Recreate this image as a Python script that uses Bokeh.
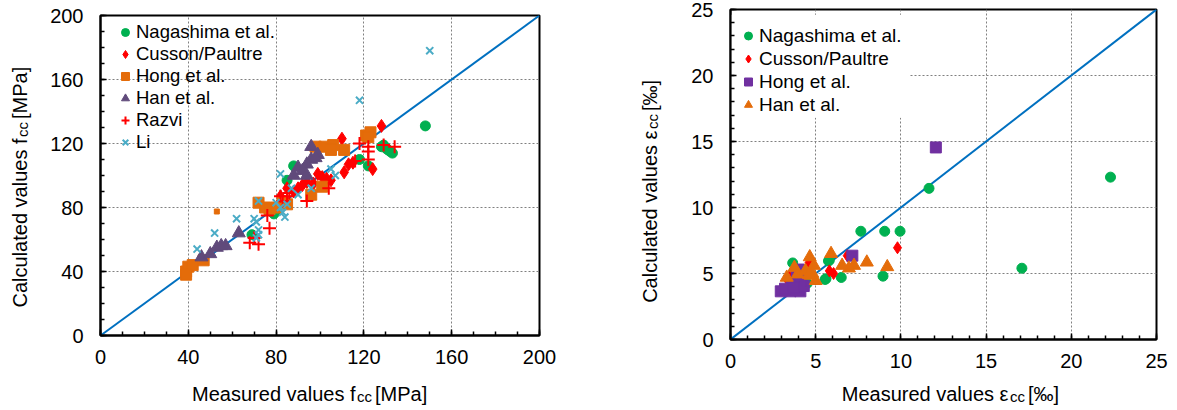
import math
from bokeh.plotting import figure
from bokeh.models import (Legend, LegendItem, BoxAnnotation, SingleIntervalTicker,
                          GridBox, Range1d)
from bokeh.core.properties import value
from bokeh.embed import file_html
from bokeh.resources import INLINE

FONT = "Liberation Sans"

# ---------------- left chart: f_cc [MPa] ----------------
nag_f_x = [148, 128, 130, 131, 132, 133, 129, 118, 122, 88, 85, 79, 80, 69]
nag_f_y = [131, 118, 117, 116, 115, 114, 119, 110, 106, 106, 97, 76, 78, 63]

cus_f_x = [128, 110, 124, 111, 113, 115, 99, 101, 103, 105, 94, 92, 90, 85, 88, 82, 97]
cus_f_y = [131, 123, 104, 102, 107, 108, 101, 99, 98, 97, 96, 94, 92, 92, 90, 87, 95]

hong_f_x = [39, 40, 42, 47, 39, 72, 75, 77, 80, 83, 85, 96, 101, 98, 102, 106, 105, 111, 121, 123, 122]
hong_f_y = [40, 43, 44, 47, 38, 83, 80, 79, 80, 83, 82, 88, 93, 118, 118, 119, 116, 116, 125, 127, 124]
hong_f_small_x = [53]
hong_f_small_y = [77.5]

han_f_x = [46, 50, 53, 55, 57, 63, 96, 99, 96, 94, 90, 92, 94, 88, 98]
han_f_y = [49, 51, 55, 56, 56, 64, 118, 113, 110, 107, 105, 103, 100, 100, 111]

razvi_f_x = [118, 122, 122, 122, 129, 134, 104, 94, 85, 82, 77, 76, 68, 72, 70, 116, 86, 83]
razvi_f_y = [120, 118, 115, 110, 119, 118, 92, 84, 87, 87, 67, 75, 58, 57, 61, 109, 89, 84]

li_f_x = [150, 118, 82, 105, 107, 62, 52, 44, 70, 71, 72, 72, 71, 72, 80, 82, 83, 84, 85, 90, 87, 96]
li_f_y = [178, 147, 101, 104, 100, 73, 64, 54, 73, 71, 66, 63, 61, 84, 83, 80, 77, 74, 82, 88, 92, 92]

# ---------------- right chart: eps_cc [permille] ----------------
nag_e_x = [22.3, 17.1, 11.65, 7.65, 9.05, 9.95, 8.95, 6.5, 5.55, 5.75, 3.65, 4.5, 5.8, 5.6]
nag_e_y = [12.3, 5.4, 11.45, 8.2, 8.2, 8.2, 4.8, 4.7, 4.55, 5.95, 5.8, 4.25, 6.0, 4.6]

cus_e_x = [9.8, 6.85, 5.8, 6.05, 3.45, 4.7, 3.3, 4.6]
cus_e_y = [6.95, 6.35, 5.2, 5.0, 4.8, 6.0, 4.6, 5.8]

hong_e_x = [12.05, 7.15, 2.95, 3.3, 3.6, 3.8, 4.0, 3.9, 4.1, 4.3, 4.1, 3.5, 3.2, 3.7]
hong_e_y = [14.55, 6.35, 3.65, 3.75, 4.05, 4.3, 5.3, 4.9, 3.65, 4.05, 4.45, 3.65, 3.85, 3.95]

han_e_x = [4.65, 5.9, 8.0, 9.2, 7.25, 6.95, 6.55, 4.9, 4.4, 3.75, 3.3, 3.95, 4.7, 5.0, 4.8, 4.6]
han_e_y = [6.25, 6.5, 5.85, 5.5, 5.6, 5.4, 5.6, 5.6, 5.2, 5.45, 4.7, 4.95, 4.85, 4.45, 5.0, 4.9]

# axis titles: (main, subscript, tail)
f_title_x = ("Measured values f", "cc", " [MPa]")
f_title_y = ("Calculated values f", "cc", " [MPa]")
e_title_x = ("Measured values \u03b5", "cc", " [\u2030]")
e_title_y = ("Calculated values \u03b5", "cc", " [\u2030]")

F_MAX = 200
E_MAX = 25

GREEN = "#00B050"
RED = "#FF0000"
ORANGE = "#E46C0A"
PURPLE_HAN = "#604A7B"
PURPLE_HONG = "#7030A0"
LI_BLUE = "#4BACC6"
DIAG = "#0070C0"

H = 408
TOTAL_W = 1172


def base_fig(width, left, top, fw, fh, vmax, interval, nminor):
    p = figure(width=width, height=H, x_range=(0, vmax), y_range=(0, vmax),
               output_backend="svg", toolbar_location=None,
               min_border_left=left, min_border_right=width - left - fw,
               min_border_top=top, min_border_bottom=H - top - fh)
    p.frame_align = False
    p.title.visible = False
    for ax in (p.xaxis[0], p.yaxis[0]):
        ax.ticker = SingleIntervalTicker(interval=interval, num_minor_ticks=nminor)
        ax.axis_line_width = 2
        ax.axis_line_color = "black"
        ax.major_tick_in = 6
        ax.major_tick_out = 0
        ax.minor_tick_in = 4
        ax.minor_tick_out = 0
        ax.major_tick_line_width = 1.5
        ax.minor_tick_line_width = 1.5
        ax.major_label_text_font = FONT
        ax.major_label_text_font_size = "20px"
        ax.major_label_text_color = "black"
    p.xaxis.major_label_standoff = 14
    p.yaxis.major_label_standoff = 17
    p.grid.grid_line_color = "#808080"
    p.grid.grid_line_dash = "2 2"
    p.grid.grid_line_width = 1
    p.outline_line_color = "black"
    p.outline_line_width = 2
    p.outline_line_alpha = 1
    p.background_fill_color = "white"
    p.border_fill_color = "white"
    return p


def legend(items, loc, row_h, font_size):
    return Legend(items=items, location=loc, margin=0, padding=0, spacing=0,
                  glyph_width=20, glyph_height=row_h, label_height=row_h, label_standoff=1,
                  label_text_font=FONT, label_text_font_size=font_size,
                  label_text_color="black", background_fill_alpha=0, border_line_alpha=0)


# ---------- left figure (frame 439 x 320 at 100,15) ----------
W1 = 600
p1 = base_fig(W1, 100, 15, 439, 320, F_MAX, 40, 4)
p1.line([0, F_MAX], [0, F_MAX], line_color=DIAG, line_width=2)
r_nag = p1.scatter(nag_f_x, nag_f_y, marker="circle", size=10, fill_color=GREEN, line_color=GREEN)
r_cus = p1.scatter(cus_f_x, cus_f_y, marker="diamond", size=13, fill_color=RED, line_color=RED)
r_hong = p1.scatter(hong_f_x, hong_f_y, marker="square", size=11, fill_color=ORANGE, line_color=ORANGE)
p1.scatter(hong_f_small_x, hong_f_small_y, marker="square", size=5, fill_color=ORANGE, line_color=ORANGE)
r_han = p1.scatter(han_f_x, han_f_y, marker="triangle", size=13, fill_color=PURPLE_HAN, line_color=PURPLE_HAN)
r_raz = p1.scatter(razvi_f_x, razvi_f_y, marker="cross", size=13, line_color=RED, line_width=2)
r_li = p1.scatter(li_f_x, li_f_y, marker="x", size=10, line_color=LI_BLUE, line_width=2)

p1.add_layout(legend([LegendItem(label="Nagashima et al.", renderers=[r_nag]),
                      LegendItem(label="Cusson/Paultre", renderers=[r_cus]),
                      LegendItem(label="Hong et al.", renderers=[r_hong]),
                      LegendItem(label="Han et al.", renderers=[r_han]),
                      LegendItem(label="Razvi", renderers=[r_raz]),
                      LegendItem(label="Li", renderers=[r_li])],
                     (15, 182), 20, "18.5px"))

# ---------- right figure (frame 426 x 330 at 730,9) ----------
W2 = TOTAL_W - W1
p2 = base_fig(W2, 130, 9, 426, 330, E_MAX, 5, 5)
p2.add_layout(BoxAnnotation(left=0.05, right=10.5, bottom=16.8, top=24.6,
                            fill_color="white", fill_alpha=1, line_alpha=0, level="underlay"))
p2.line([0, E_MAX], [0, E_MAX], line_color=DIAG, line_width=2)
s_nag = p2.scatter(nag_e_x, nag_e_y, marker="circle", size=10, fill_color=GREEN, line_color=GREEN)
s_cus = p2.scatter(cus_e_x, cus_e_y, marker="diamond", size=12, fill_color=RED, line_color=RED)
s_hong = p2.scatter(hong_e_x, hong_e_y, marker="square", size=11, fill_color=PURPLE_HONG, line_color=PURPLE_HONG)
s_han = p2.scatter(han_e_x, han_e_y, marker="triangle", size=13, fill_color=ORANGE, line_color=ORANGE)

p2.add_layout(legend([LegendItem(label="Nagashima et al.", renderers=[s_nag]),
                      LegendItem(label="Cusson/Paultre", renderers=[s_cus]),
                      LegendItem(label="Hong et al.", renderers=[s_hong]),
                      LegendItem(label="Han et al.", renderers=[s_han])],
                     (8, 223), 23, "19px"))

# ---------- transparent overlay carrying the axis titles (subscripted) ----------
ov = figure(width=TOTAL_W, height=H, x_range=Range1d(0, TOTAL_W), y_range=Range1d(H, 0),
            output_backend="svg", toolbar_location=None, x_axis_type=None, y_axis_type=None,
            min_border_left=0, min_border_right=0, min_border_top=0, min_border_bottom=0)
ov.frame_align = False
ov.title.visible = False
ov.grid.visible = False
ov.outline_line_color = None
ov.background_fill_color = None
ov.border_fill_color = None

MAIN_FS = "20px"
SUB_FS = "15px"


def title_h(t, end_x, base_y):
    main, sub, tail = t
    ov.text([end_x], [base_y], text=[main], text_align="right", text_baseline="alphabetic",
            text_font=value(FONT), text_font_size=MAIN_FS, text_color="black")
    ov.text([end_x + 1.5], [base_y + 3], text=[sub], text_align="left", text_baseline="alphabetic",
            text_font=value(FONT), text_font_size=SUB_FS, text_color="black")
    ov.text([end_x + 19.5], [base_y], text=[tail], text_align="left", text_baseline="alphabetic",
            text_font=value(FONT), text_font_size=MAIN_FS, text_color="black")


def title_v(t, end_y, base_x):
    main, sub, tail = t
    a = math.pi / 2
    ov.text([base_x], [end_y], text=[main], angle=a, text_align="right", text_baseline="alphabetic",
            text_font=value(FONT), text_font_size=MAIN_FS, text_color="black")
    ov.text([base_x + 3], [end_y - 1.5], text=[sub], angle=a, text_align="left", text_baseline="alphabetic",
            text_font=value(FONT), text_font_size=SUB_FS, text_color="black")
    ov.text([base_x], [end_y - 19.5], text=[tail], angle=a, text_align="left", text_baseline="alphabetic",
            text_font=value(FONT), text_font_size=MAIN_FS, text_color="black")


# positions in picture pixels (baseline compensated for the text box offset)
title_h(f_title_x, 355, 393)
title_v(f_title_y, 138, 19)
title_h(e_title_x, 1008, 393)
title_v(e_title_y, 130, 649)

layout = GridBox(children=[(p1, 0, 0), (p2, 0, 1), (ov, 0, 0, 1, 2)])
open("out.html", "w").write(file_html(layout, INLINE))
